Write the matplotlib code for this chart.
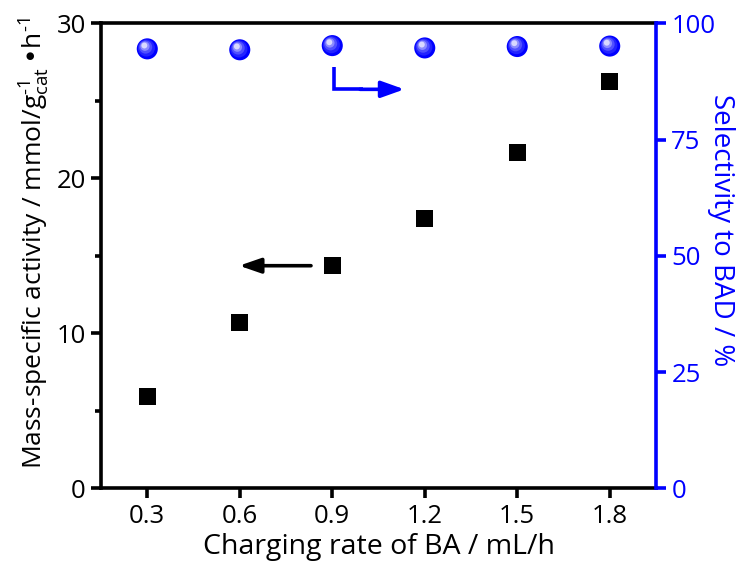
import matplotlib
matplotlib.use("Agg")
import matplotlib.pyplot as plt
from matplotlib.ticker import MultipleLocator, FixedLocator
from matplotlib.transforms import offset_copy

plt.rcParams["font.family"] = ["Open Sans", "DejaVu Sans"]
plt.rcParams["mathtext.default"] = "regular"

# Charging rate of BA (mL/h)
rate = [0.3, 0.6, 0.9, 1.2, 1.5, 1.8]
rate_labels = ["0.3", "0.6", "0.9", "1.2", "1.5", "1.8"]
# Mass-specific activity (mmol / g_cat / h)
activity = [5.95, 10.7, 14.35, 17.4, 21.65, 26.25]
# Selectivity to BAD (%)
selectivity = [94.5, 94.3, 95.2, 94.7, 95.0, 95.1]

BLUE = "#0000ff"

fig = plt.figure(figsize=(7.49, 5.75), dpi=100)
ax = fig.add_axes([0.1349, 0.1508, 0.7409, 0.8087])
ax2 = ax.twinx()

# activity: black squares on the left axis
ax.scatter(rate, activity, marker="s", s=150, color="black", zorder=3,
           edgecolors="none")

# selectivity: shaded blue spheres on the right axis
ax2.scatter(rate, selectivity, marker="o", s=230, color=BLUE,
            edgecolors="none", zorder=3)
shades = [(150, "#2222ff", 0.6, 0.6), (90, "#5050ff", 1.2, 1.3),
          (45, "#8c8cff", 1.7, 1.9), (18, "#d8d8ff", 2.1, 2.4)]
for size, col, dx, dy in shades:
    tr = offset_copy(ax2.transData, fig=fig, x=-dx, y=dy, units="points")
    ax2.scatter(rate, selectivity, marker="o", s=size, color=col,
                edgecolors="none", zorder=4, transform=tr)

ax.set_xlim(0.15, 1.95)
ax.set_ylim(0, 30)
ax2.set_ylim(0, 100)

ax.xaxis.set_major_locator(FixedLocator(rate))
ax.set_xticklabels(rate_labels)
ax.yaxis.set_major_locator(MultipleLocator(10))
ax.yaxis.set_minor_locator(MultipleLocator(5))
ax2.yaxis.set_major_locator(MultipleLocator(25))

lw = 2.6
for s in ["left", "bottom", "top"]:
    ax.spines[s].set_linewidth(lw)
    ax.spines[s].set_color("black")
ax.spines["right"].set_visible(False)
for s in ["left", "bottom", "top"]:
    ax2.spines[s].set_visible(False)
ax2.spines["right"].set_linewidth(lw)
ax2.spines["right"].set_color(BLUE)

ax.tick_params(axis="both", which="major", direction="out", length=7,
               width=lw, labelsize=18.5, pad=4, color="black")
ax.tick_params(axis="y", which="minor", direction="out", length=4, width=lw)
ax.tick_params(axis="x", which="both", top=False)
ax2.tick_params(axis="y", which="major", direction="out", length=7,
                width=lw, labelsize=18.5, pad=4, color=BLUE, labelcolor=BLUE)
ax2.tick_params(axis="y", which="minor", right=False)

ax.set_xlabel("Charging rate of BA / mL/h", fontsize=20.5, labelpad=3)
ax.set_ylabel("Mass-specific activity / mmol/g$_{cat}^{\u20101}$"
              "\u2009•h$^{\u20101}$",
              fontsize=19, va="center", ha="center")
ax.yaxis.set_label_coords(-0.119, 0.527)
ax2.set_ylabel("Selectivity to BAD / %", fontsize=20, color=BLUE,
               rotation=270, va="center", ha="center")
ax2.yaxis.set_label_coords(1.117, 0.555)

# arrow pointing to the activity axis
ax.annotate("", xy=(0.598, 14.36), xytext=(0.831, 14.36),
            arrowprops=dict(arrowstyle="-|>,head_length=1.3,head_width=0.45",
                            color="black", lw=2.6, shrinkA=0, shrinkB=0))
# bent arrow pointing to the selectivity axis
ax2.plot([0.905, 0.905, 1.0], [90.7, 85.8, 85.8], color=BLUE, lw=2.6,
         solid_joinstyle="miter", solid_capstyle="butt")
ax2.annotate("", xy=(1.134, 85.8), xytext=(0.99, 85.8),
             arrowprops=dict(arrowstyle="-|>,head_length=1.4,head_width=0.5",
                             color=BLUE, lw=2.6, shrinkA=0, shrinkB=0))

fig.savefig("out.png", dpi=100)
